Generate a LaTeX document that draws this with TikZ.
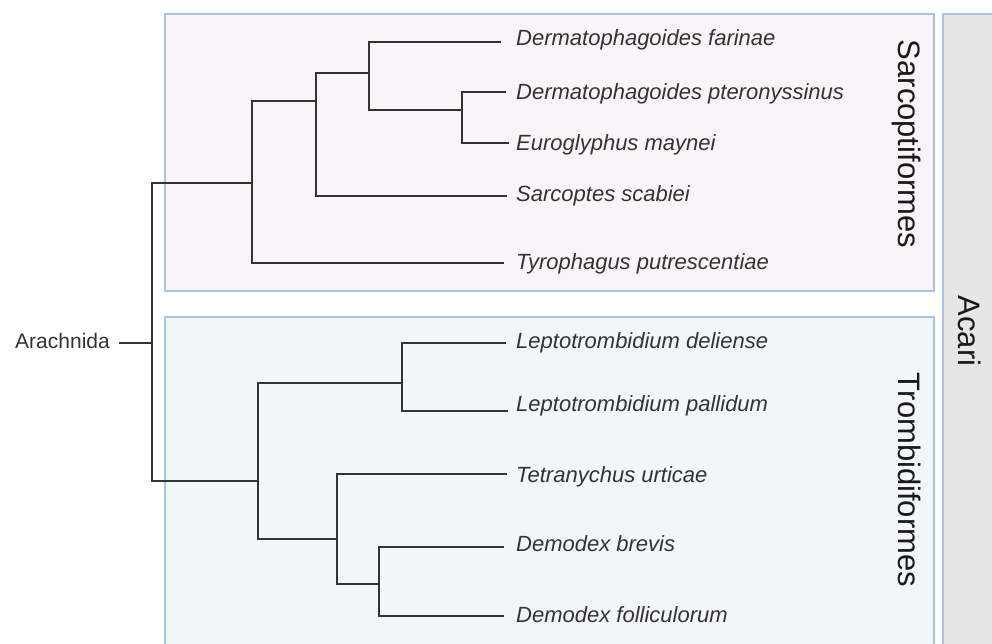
\documentclass[tikz,border=0pt]{standalone}
\usepackage{fontspec}
\setmainfont{Liberation Sans}
\definecolor{boxline}{HTML}{A9C2E6}
\definecolor{pinkfill}{HTML}{FAF3F8}
\definecolor{bluefill}{HTML}{F1F7F9}
\definecolor{grayfill}{HTML}{E6E6E6}
\definecolor{branch}{HTML}{333333}
\tikzset{
  cladebox/.style={draw=boxline, line width=1.8pt},
  br/.style={draw=branch, line width=1.8pt, line cap=rect},
  sp/.style={anchor=base west, inner sep=0pt, font=\fontsize{22}{26}\selectfont\itshape, text=branch},
  grp/.style={anchor=base, inner sep=0pt, rotate=-90, font=\fontsize{31}{36}\selectfont, text=black!90},
}
\begin{document}
\begin{tikzpicture}[x=1pt,y=-1pt]
\useasboundingbox (0,0) rectangle (992,644);
\clip (0,0) rectangle (992,644);
% boxes
\fill[white] (0,0) rectangle (992,644);
\draw[cladebox, fill=pinkfill] (165,14) rectangle (934,291);
\draw[cladebox, fill=bluefill] (165,317) rectangle (934,660);
\draw[cladebox, fill=grayfill] (943,14) rectangle (1010,660);
% group labels
\node[grp] (sarco) at (898,144) {Sarcoptiformes};
\node[grp] (trombi) at (898,480) {Trombidiformes};
\node[grp] (acari) at (958,331) {Acari};
% internal nodes
\coordinate (R) at (152,343);
\coordinate (D) at (252,183);
\coordinate (C) at (316,101);
\coordinate (A) at (369,73);
\coordinate (B) at (462,110);
\coordinate (E) at (258,481);
\coordinate (F) at (402,383);
\coordinate (G) at (337,539);
\coordinate (H) at (379,584);
% tips
\coordinate (t1) at (500,42);
\coordinate (t2) at (505,92);
\coordinate (t3) at (508,143);
\coordinate (t4) at (506,196);
\coordinate (t5) at (503,263);
\coordinate (t6) at (505,343);
\coordinate (t7) at (507,411);
\coordinate (t8) at (506,474);
\coordinate (t9) at (503,547);
\coordinate (t10) at (503,616);
\coordinate (aend) at (120,343);
% species labels
\node[sp] (s1) at (516,46) {Dermatophagoides farinae};
\node[sp] (s2) at (516,100) {Dermatophagoides pteronyssinus};
\node[sp] (s3) at (516,151) {Euroglyphus maynei};
\node[sp] (s4) at (516,202) {Sarcoptes scabiei};
\node[sp] (s5) at (516,269) {Tyrophagus putrescentiae};
\node[sp] (s6) at (516,348) {Leptotrombidium deliense};
\node[sp] (s7) at (516,411) {Leptotrombidium pallidum};
\node[sp] (s8) at (516,482) {Tetranychus urticae};
\node[sp] (s9) at (516,551) {Demodex brevis};
\node[sp] (s10) at (516,622) {Demodex folliculorum};
\node[anchor=base east, inner sep=0pt, font=\fontsize{21}{25}\selectfont, text=branch] (arach) at (110,348) {Arachnida};
% branches
\draw[br] (aend) -- (R);
\draw[br] (R) |- (D);
\draw[br] (R) |- (E);
\draw[br] (D) |- (C);
\draw[br] (D) |- (t5);
\draw[br] (C) |- (A);
\draw[br] (C) |- (t4);
\draw[br] (A) |- (t1);
\draw[br] (A) |- (B);
\draw[br] (B) |- (t2);
\draw[br] (B) |- (t3);
\draw[br] (E) |- (F);
\draw[br] (E) |- (G);
\draw[br] (F) |- (t6);
\draw[br] (F) |- (t7);
\draw[br] (G) |- (t8);
\draw[br] (G) |- (H);
\draw[br] (H) |- (t9);
\draw[br] (H) |- (t10);
\end{tikzpicture}
\end{document}
